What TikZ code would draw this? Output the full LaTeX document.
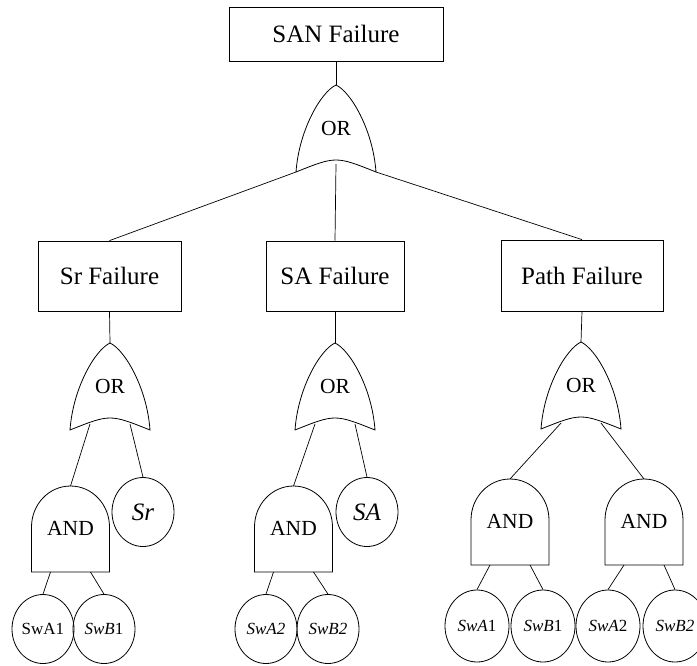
\documentclass[tikz,border=0pt]{standalone}
\usepackage{fontspec}
\setmainfont{Liberation Serif}
\usetikzlibrary{shapes.geometric}
\tikzset{
  gate/.style={draw=black,line width=.8pt,fill=white},
  box/.style={draw=black,line width=.8pt,minimum height=70pt,inner sep=0pt,font=\fontsize{25}{28}\selectfont},
  leaf/.style={ellipse,draw=black,line width=.8pt,minimum width=62pt,minimum height=69pt,inner sep=0pt,font=\fontsize{17}{20}\selectfont},
  basic/.style={leaf,font=\fontsize{25}{28}\selectfont\itshape},
  link/.style={line width=.7pt,draw=black},
  gatetext/.style={font=\fontsize{21.5}{24}\selectfont,inner sep=0pt},
  orgate/.pic={
    \draw[gate] (0,0) .. controls (-15,7) and (-37,45) .. (-40,87)
      .. controls (0,71) .. (40,87) .. controls (37,45) and (15,7) .. (0,0) -- cycle;
    \coordinate (-in) at (0,0);
    \coordinate (-l) at (-40,87);
    \coordinate (-r) at (40,87);
    \coordinate (-m) at (0,79);
    \coordinate (-ml) at (-20,81);
    \coordinate (-mr) at (20,81);
    \node[gatetext] (-txt) at (0,43) {OR};
  },
  andgate/.pic={
    \draw[gate] (-39,86) -- (-39,41) arc[start angle=180,end angle=360,x radius=39,y radius=41]
      -- (39,86) -- cycle;
    \coordinate (-in) at (0,0);
    \coordinate (-bl) at (-20,86);
    \coordinate (-br) at (20,86);
    \node[gatetext] (-txt) at (0,42) {AND};
  }
}

\begin{document}
\begin{tikzpicture}[x=1pt,y=-1pt]
  \useasboundingbox (0,0) rectangle (697,665);
  % top event
  \node[box,minimum width=214pt,minimum height=54pt] (san) at (336,34) {SAN Failure};
  \pic (or0) at (336,85) {orgate};
  % intermediate events
  \node[box,minimum width=143pt] (sr) at (109.5,276) {Sr Failure};
  \node[box,minimum width=138pt] (sa) at (335,276) {SA Failure};
  \node[box,minimum width=162pt,minimum height=71pt] (path) at (582,275.5) {Path Failure};
  \pic (or1) at (110,343) {orgate};
  \pic (or2) at (335,343) {orgate};
  \pic (or3) at (581,342) {orgate};
  \pic (and1) at (70.5,486) {andgate};
  \pic (and2) at (293.5,486) {andgate};
  \pic (and3) at (510,479) {andgate};
  \pic (and4) at (644,479) {andgate};
  % basic events
  \node[basic] (srb) at (143,512) {Sr};
  \node[basic] (sab) at (367,512) {SA};
  \node[leaf] (a1) at (43,629) {SwA1};
  \node[leaf] (b1) at (104,629) {\textit{SwB}1};
  \node[leaf] (a2) at (266,629) {\textit{SwA2}};
  \node[leaf] (b2) at (328,629) {\textit{SwB2}};
  \node[leaf,minimum width=64pt,minimum height=72pt] (pa1) at (477,626) {\textit{SwA}1};
  \node[leaf,minimum width=64pt,minimum height=72pt] (pb1) at (543,626) {\textit{SwB}1};
  \node[leaf,minimum width=64pt,minimum height=72pt] (pa2) at (608,626) {\textit{SwA}2};
  \node[leaf,minimum width=64pt,minimum height=72pt] (pb2) at (675,626) {\textit{SwB2}};
  % connectors
  \draw[link] (san.south) -- (or0-in);
  \draw[link] (or0-l) -- (sr.north);
  \draw[link] (or0-m) -- (sa.north);
  \draw[link] (or0-r) -- (path.north);
  \draw[link] (sr.south) -- (or1-in);
  \draw[link] (sa.south) -- (or2-in);
  \draw[link] (path.south) -- (or3-in);
  \draw[link] (or1-ml) -- (and1-in);
  \draw[link] (or1-mr) -- (srb.north);
  \draw[link] (or2-ml) -- (and2-in);
  \draw[link] (or2-mr) -- (sab.north);
  \draw[link] (or3-ml) -- (and3-in);
  \draw[link] (or3-mr) -- (and4-in);
  \draw[link] (and1-bl) -- (a1.north);
  \draw[link] (and1-br) -- (b1.north);
  \draw[link] (and2-bl) -- (a2.north);
  \draw[link] (and2-br) -- (b2.north);
  \draw[link] (and3-bl) -- (pa1.north);
  \draw[link] (and3-br) -- (pb1.north);
  \draw[link] (and4-bl) -- (pa2.north);
  \draw[link] (and4-br) -- (pb2.north);
\end{tikzpicture}
\end{document}
